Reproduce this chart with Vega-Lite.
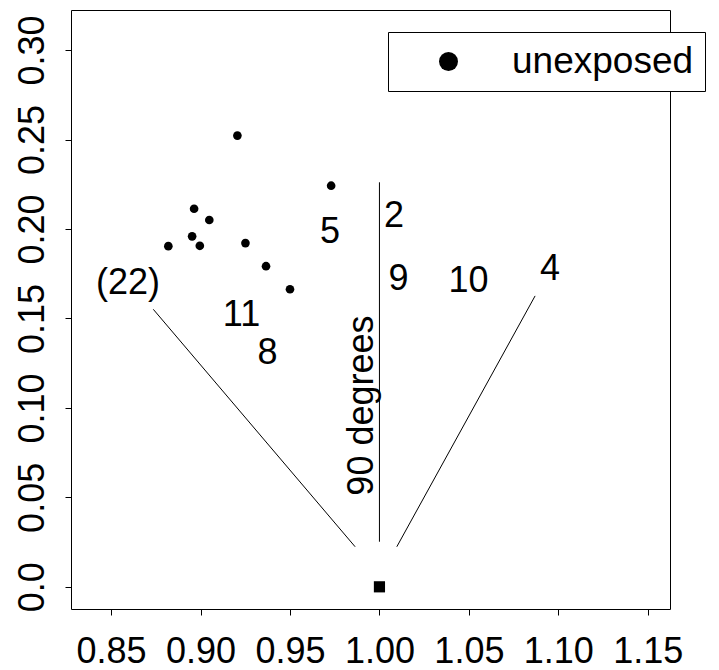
{
  "$schema": "https://vega.github.io/schema/vega-lite/v6.json",
  "width": 599,
  "height": 599,
  "autosize": {"type": "none"},
  "padding": {"left": 71, "top": 10, "right": 49, "bottom": 61},
  "background": "white",
  "config": {
    "font": "Liberation Sans",
    "view": {"stroke": "black", "strokeWidth": 1}
  },
  "datasets": {
    "pts": [
      {"x": 0.9206, "y": 0.2522, "group": "unexposed"},
      {"x": 0.9730, "y": 0.2242, "group": "unexposed"},
      {"x": 0.8964, "y": 0.2113, "group": "unexposed"},
      {"x": 0.9049, "y": 0.2050, "group": "unexposed"},
      {"x": 0.8953, "y": 0.1959, "group": "unexposed"},
      {"x": 0.8996, "y": 0.1906, "group": "unexposed"},
      {"x": 0.8820, "y": 0.1904, "group": "unexposed"},
      {"x": 0.9251, "y": 0.1921, "group": "unexposed"},
      {"x": 0.9366, "y": 0.1792, "group": "unexposed"},
      {"x": 0.9500, "y": 0.1663, "group": "unexposed"}
    ],
    "origin": [{"x": 1.0, "y": 0.0}],
    "segs": [
      {"x": 1.0, "y": 0.0252, "x2": 1.0, "y2": 0.2261},
      {"x": 0.8736, "y": 0.1551, "x2": 0.9864, "y2": 0.0224},
      {"x": 1.0870, "y": 0.1626, "x2": 1.0097, "y2": 0.0224}
    ],
    "labels": [
      {"x": 0.8595, "y": 0.1697, "label": "(22)"},
      {"x": 0.9724, "y": 0.1985, "label": "5"},
      {"x": 0.9229, "y": 0.1517, "label": "11"},
      {"x": 0.9375, "y": 0.1307, "label": "8"},
      {"x": 1.0082, "y": 0.2070, "label": "2"},
      {"x": 1.0107, "y": 0.1722, "label": "9"},
      {"x": 1.0498, "y": 0.1708, "label": "10"},
      {"x": 1.0954, "y": 0.1774, "label": "4"}
    ],
    "rot": [{"x": 0.9965, "y": 0.1013, "label": "90 degrees"}]
  },
  "encoding": {
    "x": {
      "field": "x", "type": "quantitative",
      "scale": {"domain": [0.8276, 1.1624], "nice": false, "zero": false},
      "axis": {
        "title": null,
        "values": [0.85, 0.9, 0.95, 1, 1.05, 1.1, 1.15],
        "format": ".2f",
        "labelFontSize": 36, "labelColor": "black",
        "tickColor": "black", "tickSize": 6, "tickWidth": 1,
        "labelPadding": 19, "domain": false, "grid": false,
        "labelFlush": false, "labelOverlap": false, "labelBound": false
      }
    },
    "y": {
      "field": "y", "type": "quantitative",
      "scale": {"domain": [-0.0124, 0.3224], "nice": false, "zero": false},
      "axis": {
        "title": null,
        "values": [0, 0.05, 0.1, 0.15, 0.2, 0.25, 0.3],
        "labelExpr": "datum.value == 0 ? '0.0' : format(datum.value, '.2f')",
        "labelAngle": -90, "labelAlign": "center", "labelBaseline": "bottom",
        "labelFontSize": 36, "labelColor": "black",
        "tickColor": "black", "tickSize": 6, "tickWidth": 1,
        "labelPadding": 14, "domain": false, "grid": false,
        "labelFlush": false, "labelOverlap": false, "labelBound": false
      }
    }
  },
  "layer": [
    {
      "data": {"name": "segs"},
      "mark": {"type": "rule", "color": "black", "strokeWidth": 1},
      "encoding": {
        "x2": {"field": "x2"},
        "y2": {"field": "y2"}
      }
    },
    {
      "data": {"name": "pts"},
      "mark": {"type": "point", "filled": true, "size": 75, "opacity": 1, "shape": "circle"},
      "encoding": {
        "color": {
          "field": "group", "type": "nominal",
          "scale": {"domain": ["unexposed"], "range": ["black"]},
          "legend": {
            "title": null, "orient": "none", "legendX": 317, "legendY": 22,
            "padding": 11, "strokeColor": "black", "fillColor": "white",
            "labelFontSize": 37, "labelColor": "black", "labelLimit": 500,
            "symbolSize": 360, "symbolType": "circle", "symbolStrokeWidth": 0,
            "symbolOffset": 31, "labelOffset": 45
          }
        }
      }
    },
    {
      "data": {"name": "origin"},
      "mark": {"type": "square", "filled": true, "size": 125, "color": "black", "opacity": 1}
    },
    {
      "data": {"name": "labels"},
      "mark": {"type": "text", "fontSize": 36, "color": "black", "align": "center", "baseline": "middle"},
      "encoding": {"text": {"field": "label"}}
    },
    {
      "data": {"name": "rot"},
      "mark": {"type": "text", "fontSize": 36, "color": "black", "align": "center", "baseline": "alphabetic", "angle": 270},
      "encoding": {"text": {"field": "label"}}
    }
  ]
}
